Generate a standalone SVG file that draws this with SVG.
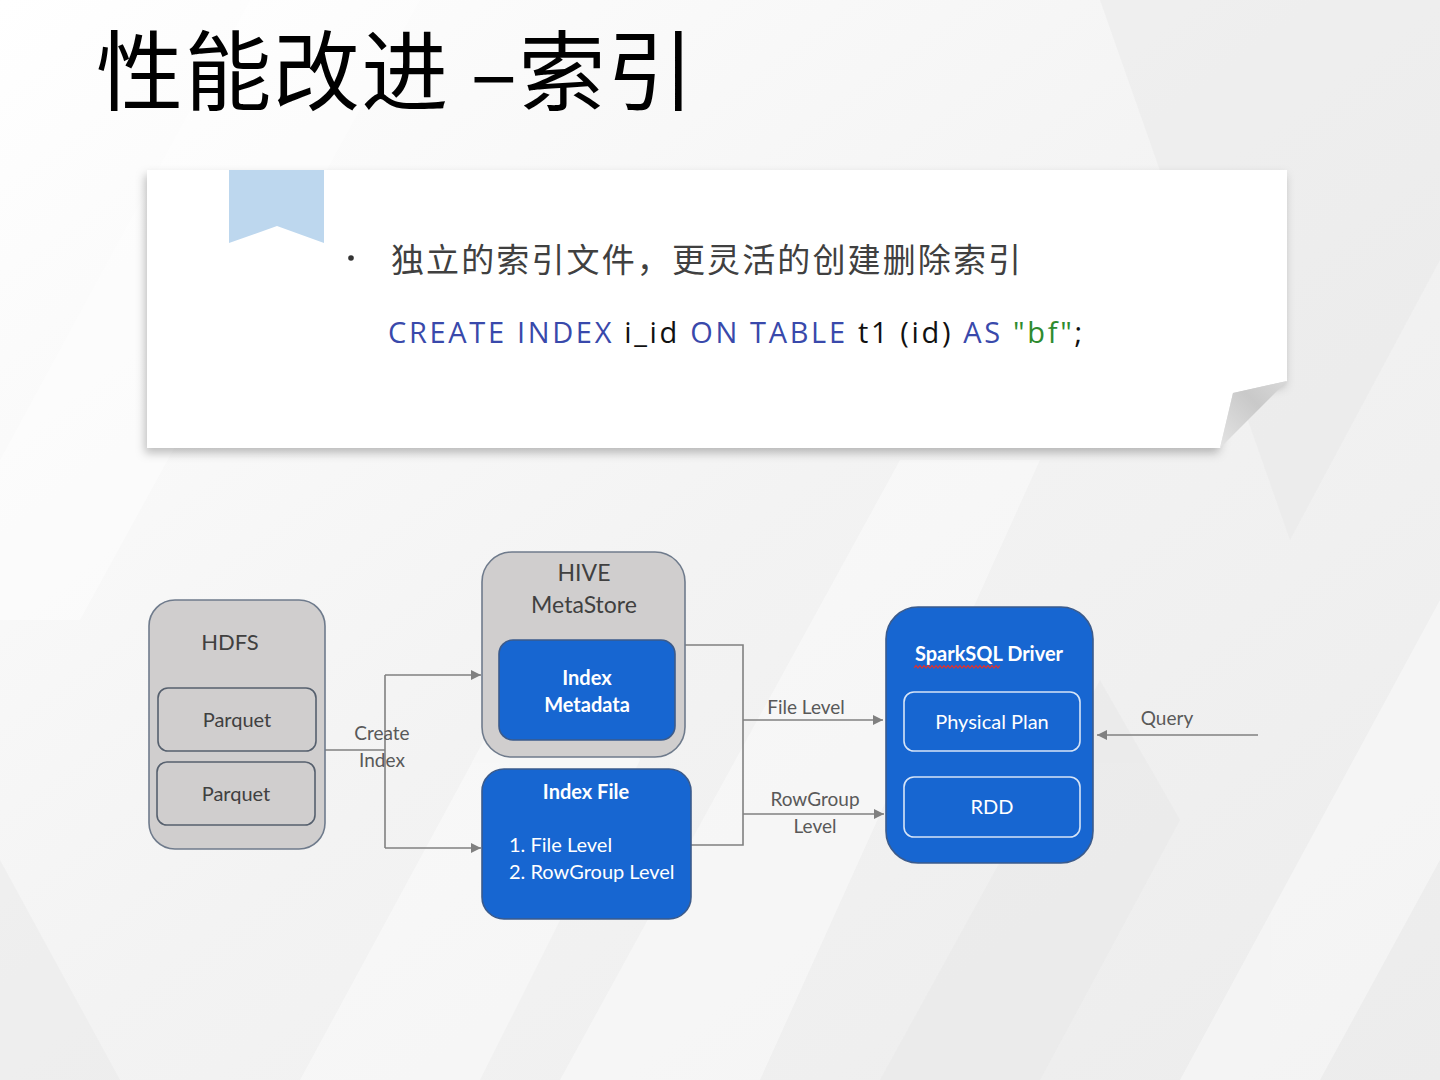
<svg xmlns="http://www.w3.org/2000/svg" width="1440" height="1080" viewBox="0 0 1440 1080">
  <defs>
    <linearGradient id="bg" x1="0" y1="0" x2="1" y2="1">
      <stop offset="0" stop-color="#ffffff"/>
      <stop offset="0.5" stop-color="#f3f3f3"/>
      <stop offset="1" stop-color="#ececec"/>
    </linearGradient>
    <linearGradient id="curl" x1="0" y1="1" x2="1" y2="0">
      <stop offset="0" stop-color="#e4e4e4"/>
      <stop offset="0.6" stop-color="#c9c9c9"/>
      <stop offset="1" stop-color="#d8d8d8"/>
    </linearGradient>
    <filter id="shadow" x="-5%" y="-10%" width="110%" height="125%">
      <feDropShadow dx="-2" dy="5" stdDeviation="5" flood-color="#000" flood-opacity="0.25"/>
    </filter>
    <marker id="arr" viewBox="0 0 10 10" refX="10" refY="5" markerWidth="10" markerHeight="10" markerUnits="userSpaceOnUse" orient="auto">
      <path d="M0,0 L10,5 L0,10 Z" fill="#808080"/>
    </marker>
    <style>
      .grey { fill: #d0cece; stroke: #6f7b8c; stroke-width: 1.6; }
      .inner { fill: #d0cece; stroke: #56606e; stroke-width: 1.6; }
      .blue { fill: #1766d1; stroke: #3b5b8c; stroke-width: 1.6; }
      .sub { fill: #1766d1; stroke: #d6e4f7; stroke-width: 1.6; }
      .t { font-family: Lato, "Open Sans", "Liberation Sans", sans-serif; text-anchor: middle; }
      .dk { fill: #404040; }
      .lbl { fill: #595959; font-size: 19px; }
      .w { fill: #ffffff; }
      .b { font-weight: bold; }
      .conn { fill: none; stroke: #808080; stroke-width: 1.6; }
    </style>
  </defs>

  <!-- background -->
  <rect x="0" y="0" width="1440" height="1080" fill="url(#bg)"/>
  <g fill="#ffffff" opacity="0.4">
    <polygon points="0,460 250,0 420,0 80,620 0,620"/>
    <polygon points="560,1080 900,460 1040,460 760,1080"/>
    <polygon points="1180,1080 1440,600 1440,860 1320,1080"/>
    <polygon points="300,1080 560,600 640,760 480,1080"/>
  </g>
  <g fill="#e6e6e6" opacity="0.4">
    <polygon points="1100,0 1440,0 1440,260 1290,540"/>
    <polygon points="0,860 120,1080 0,1080"/>
    <polygon points="880,1080 1100,680 1180,820 1040,1080"/>
  </g>

  <!-- title -->
  <text x="96" y="104" font-family="'Noto Sans CJK SC', 'Noto Sans', sans-serif" font-size="87" fill="#000000" textLength="598" lengthAdjust="spacing">性能改进 –索引</text>

  <!-- card -->
  <g id="card">
    <polygon points="147,170 1287,170 1287,381 1233,393 1220,448 147,448" fill="#ffffff" filter="url(#shadow)"/>
    <polygon points="1287,381 1233,393 1220,448" fill="url(#curl)"/>
    <polygon points="229,170 324,170 324,243 277,226 229,243" fill="#bdd7ee"/>
    <circle cx="351" cy="258" r="2.8" fill="#333333"/>
    <text x="391" y="272" font-family="'Noto Sans CJK SC', sans-serif" font-size="33" fill="#404040" textLength="630" lengthAdjust="spacing">独立的索引文件，更灵活的创建删除索引</text>
    <text x="388" y="343" font-family="'Open Sans', 'Noto Sans', sans-serif" font-size="29" textLength="694" lengthAdjust="spacing" fill="#3949ab"><tspan>CREATE INDEX </tspan><tspan fill="#111111">i_id </tspan><tspan>ON TABLE </tspan><tspan fill="#111111">t1 (id) </tspan><tspan>AS </tspan><tspan fill="#2e8b2e">"bf"</tspan><tspan fill="#111111">;</tspan></text>
  </g>

  <!-- connectors -->
  <g id="connectors">
    <path class="conn" d="M325,750 H385"/>
    <path class="conn" d="M385,675 V848"/>
    <path class="conn" d="M385,675 H481" marker-end="url(#arr)"/>
    <path class="conn" d="M385,848 H481" marker-end="url(#arr)"/>
    <path class="conn" d="M685,645 H743 V845 H691"/>
    <path class="conn" d="M743,720 H883" marker-end="url(#arr)"/>
    <path class="conn" d="M743,814 H884" marker-end="url(#arr)"/>
    <path class="conn" d="M1258,735 H1097" marker-end="url(#arr)"/>
    <text class="t lbl" x="382" y="740">Create</text>
    <text class="t lbl" x="382" y="767">Index</text>
    <text class="t lbl" x="806" y="714">File Level</text>
    <text class="t lbl" x="815" y="806">RowGroup</text>
    <text class="t lbl" x="815" y="833">Level</text>
    <text class="t lbl" x="1167" y="725">Query</text>
  </g>

  <!-- HDFS -->
  <g id="hdfs">
    <rect class="grey" x="149" y="600" width="176" height="249" rx="26"/>
    <text class="t dk" x="230" y="650" font-size="22">HDFS</text>
  </g>
  <g id="parquet1">
    <rect class="inner" x="158" y="688" width="158" height="63" rx="10"/>
    <text class="t dk" x="237" y="727" font-size="20">Parquet</text>
  </g>
  <g id="parquet2">
    <rect class="inner" x="157" y="762" width="158" height="63" rx="10"/>
    <text class="t dk" x="236" y="801" font-size="20">Parquet</text>
  </g>

  <!-- HIVE MetaStore -->
  <g id="hive">
    <rect class="grey" x="482" y="552" width="203" height="205" rx="30"/>
    <text class="t dk" x="584" y="581" font-size="23">HIVE</text>
    <text class="t dk" x="584" y="613" font-size="23">MetaStore</text>
  </g>
  <g id="index-metadata">
    <rect class="blue" x="499" y="640" width="176" height="100" rx="14"/>
    <text class="t w b" x="587" y="685" font-size="20">Index</text>
    <text class="t w b" x="587" y="712" font-size="20">Metadata</text>
  </g>

  <!-- Index File -->
  <g id="index-file">
    <rect class="blue" x="482" y="769" width="209" height="150" rx="22"/>
    <text class="t w b" x="586" y="799" font-size="20">Index File</text>
    <text x="509" y="852" font-family="Lato, 'Open Sans', sans-serif" font-size="20" fill="#ffffff">1. File Level</text>
    <text x="509" y="879" font-family="Lato, 'Open Sans', sans-serif" font-size="20" fill="#ffffff">2. RowGroup Level</text>
  </g>

  <!-- SparkSQL Driver -->
  <g id="sparksql">
    <rect class="blue" x="886" y="607" width="207" height="256" rx="32"/>
    <text class="t w b" x="989" y="661" font-size="20">SparkSQL Driver</text>
    <path d="M914,668 l2,-2.5 l2,2.5 l2,-2.5 l2,2.5 l2,-2.5 l2,2.5 l2,-2.5 l2,2.5 l2,-2.5 l2,2.5 l2,-2.5 l2,2.5 l2,-2.5 l2,2.5 l2,-2.5 l2,2.5 l2,-2.5 l2,2.5 l2,-2.5 l2,2.5 l2,-2.5 l2,2.5 l2,-2.5 l2,2.5 l2,-2.5 l2,2.5 l2,-2.5 l2,2.5 l2,-2.5 l2,2.5 l2,-2.5 l2,2.5 l2,-2.5 l2,2.5 l2,-2.5 l2,2.5 l2,-2.5 l2,2.5 l2,-2.5 l2,2.5 l2,-2.5 l2,2.5 l2,-2.5" fill="none" stroke="#e03030" stroke-width="1.2"/>
  </g>
  <g id="physical-plan">
    <rect class="sub" x="904" y="692" width="176" height="59" rx="10"/>
    <text class="t w" x="992" y="729" font-size="20">Physical Plan</text>
  </g>
  <g id="rdd">
    <rect class="sub" x="904" y="777" width="176" height="60" rx="10"/>
    <text class="t w" x="992" y="814" font-size="20">RDD</text>
  </g>
</svg>
